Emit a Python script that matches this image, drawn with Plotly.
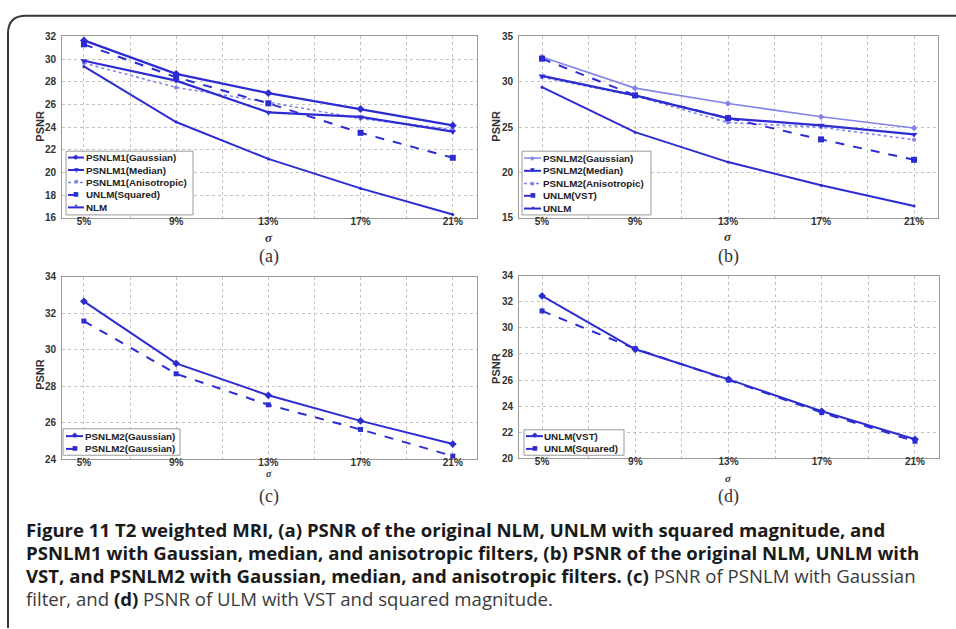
import plotly.graph_objects as go

W, H = 956, 629

# ---------------- data ----------------
sigma = [5, 9, 13, 17, 21]
sigma_labels = ["5%", "9%", "13%", "17%", "21%"]

a_psnlm1_gauss = [31.65, 28.7, 27.0, 25.6, 24.15]
a_psnlm1_median = [29.85, 28.1, 25.3, 24.9, 23.6]
a_psnlm1_aniso = [29.65, 27.5, 26.2, 24.75, 23.8]
a_unlm_squared = [31.3, 28.4, 26.1, 23.5, 21.3]
a_nlm = [29.35, 24.45, 21.2, 18.6, 16.3]

b_psnlm2_gauss = [32.73, 29.3, 27.6, 26.15, 24.9]
b_psnlm2_median = [30.65, 28.5, 25.96, 25.2, 24.2]
b_psnlm2_aniso = [30.5, 28.45, 25.5, 25.0, 23.6]
b_unlm_vst = [32.55, 28.5, 26.0, 23.65, 21.4]
b_unlm = [29.4, 24.45, 21.15, 18.6, 16.3]

c_psnlm2_gauss_1 = [32.65, 29.25, 27.5, 26.1, 24.83]
c_psnlm2_gauss_2 = [31.57, 28.68, 26.98, 25.63, 24.17]

d_unlm_vst = [32.45, 28.36, 26.05, 23.6, 21.45]
d_unlm_squared = [31.3, 28.4, 26.0, 23.5, 21.3]

a_yticks = [16, 18, 20, 22, 24, 26, 28, 30, 32]
b_yticks = [15, 20, 25, 30, 35]
c_yticks = [24, 26, 28, 30, 32, 34]
d_yticks = [20, 22, 24, 26, 28, 30, 32, 34]

# ---------------- styles ----------------
DARK = "#2c2cd2"
LIGHT = "#8484e8"


def fx(p):
    return p / W


def fy(p):
    return 1 - p / H


fig = go.Figure()

panels = {
    "a": ((62, 477, 31, 216), [4.05, 22.05], [16, 32], a_yticks, "", ""),
    "b": ((519, 938, 31, 216), [4.01, 22.03], [15, 35], b_yticks, "2", "2"),
    "c": ((62, 477, 276, 462), [4.05, 22.05], [24, 34], c_yticks, "3", "3"),
    "d": ((519, 939, 275, 461), [4.01, 22.03], [20, 34], d_yticks, "4", "4"),
}

tickfont = dict(family="Liberation Sans", size=10, color="#333", weight="bold")
layout_axes = {}
for key, (box, xr, yr, yt, xs, ys) in panels.items():
    l, r, t, b = box
    layout_axes["xaxis" + xs] = dict(
        domain=[fx(l), fx(r)], range=xr, anchor="y" + ys,
        tickvals=sigma, ticktext=sigma_labels, tickfont=tickfont,
        showline=True, mirror=True, linecolor="#9a9a9a", linewidth=1,
        showgrid=True, gridcolor="#c4c4c4", griddash="dot", gridwidth=1,
        zeroline=False, ticks="", ticklabelstandoff=-6,
        minor=dict(tick0=5, dtick=2, showgrid=True, gridcolor="#c4c4c4",
                   griddash="dot", ticks=""),
    )
    layout_axes["yaxis" + ys] = dict(
        domain=[fy(b), fy(t)], range=yr, anchor="x" + xs,
        tickvals=yt, tickfont=tickfont,
        showline=True, mirror=True, linecolor="#9a9a9a", linewidth=1,
        showgrid=True, gridcolor="#c4c4c4", griddash="dot", gridwidth=1,
        zeroline=False, ticks="", ticklabelstandoff=3,
    )


def add(y, xs, ys, color, width, dash, symbol, size, name):
    fig.add_trace(go.Scatter(
        x=sigma, y=y, xaxis="x" + xs, yaxis="y" + ys, name=name,
        mode="lines+markers", showlegend=False,
        line=dict(color=color, width=width, dash=dash),
        marker=dict(color=color, symbol=symbol, size=size),
        cliponaxis=False,
    ))


# (a)
add(a_psnlm1_aniso, "", "", LIGHT, 1.6, "dot", "circle", 4, "PSNLM1(Anisotropic)")
add(a_psnlm1_gauss, "", "", DARK, 2.2, "solid", "diamond", 6, "PSNLM1(Gaussian)")
add(a_psnlm1_median, "", "", DARK, 2.2, "solid", "triangle-down", 6, "PSNLM1(Median)")
add(a_unlm_squared, "", "", DARK, 2, "dash", "square", 6, "UNLM(Squared)")
add(a_nlm, "", "", DARK, 2, "solid", "circle", 3, "NLM")
# (b)
add(b_psnlm2_gauss, "2", "2", LIGHT, 1.6, "solid", "diamond", 5, "PSNLM2(Gaussian)")
add(b_psnlm2_aniso, "2", "2", LIGHT, 1.6, "dot", "circle", 4, "PSNLM2(Anisotropic)")
add(b_psnlm2_median, "2", "2", DARK, 2.2, "solid", "triangle-down", 6, "PSNLM2(Median)")
add(b_unlm_vst, "2", "2", DARK, 2, "dash", "square", 6, "UNLM(VST)")
add(b_unlm, "2", "2", DARK, 2, "solid", "circle", 3, "UNLM")
# (c)
add(c_psnlm2_gauss_1, "3", "3", DARK, 2, "solid", "diamond", 6, "PSNLM2(Gaussian)")
add(c_psnlm2_gauss_2, "3", "3", DARK, 2, "dash", "square", 5, "PSNLM2(Gaussian)")
# (d)
add(d_unlm_vst, "4", "4", DARK, 2, "solid", "diamond", 6, "UNLM(VST)")
add(d_unlm_squared, "4", "4", DARK, 2, "dash", "square", 5, "UNLM(Squared)")

shapes = []
annotations = []

# -------- compact legends (plotly's own legend rows are too tall here) --------
GLYPH = {"diamond": "◆", "triangle-down": "▼", "circle": "●", "square": "■", "dot": "•"}


def legend(box, sx, tx, entries):
    x0, y0, x1, y1 = box
    shapes.append(dict(type="rect", xref="paper", yref="paper",
                       x0=fx(x0), x1=fx(x1), y0=fy(y1), y1=fy(y0),
                       line=dict(color="#9a9a9a", width=1), fillcolor="white",
                       layer="above"))
    for (yy, color, width, dash, glyph, gsize, label) in entries:
        shapes.append(dict(type="line", xref="paper", yref="paper",
                           x0=fx(sx[0]), x1=fx(sx[1]), y0=fy(yy), y1=fy(yy),
                           line=dict(color=color, width=width, dash=dash),
                           layer="above"))
        annotations.append(dict(xref="paper", yref="paper",
                                x=fx((sx[0] + sx[1]) / 2), y=fy(yy - 1),
                                text=GLYPH[glyph], showarrow=False,
                                font=dict(family="DejaVu Sans", size=gsize, color=color),
                                xanchor="center", yanchor="middle",
                                borderpad=0))
        annotations.append(dict(xref="paper", yref="paper", x=fx(tx), y=fy(yy),
                                text=label, showarrow=False, xanchor="left",
                                yanchor="middle",
                                font=dict(family="Liberation Sans", size=9.8,
                                          color="#222", weight="bold")))


legend((66, 148, 193, 213), (68, 84), 84, [
    (154.5, DARK, 2, "solid", "diamond", 7, "PSNLM1(Gaussian)"),
    (167.2, DARK, 2, "solid", "triangle-down", 6, "PSNLM1(Median)"),
    (179.9, LIGHT, 1.5, "dot", "circle", 5, "PSNLM1(Anisotropic)"),
    (192.6, DARK, 2, "dash", "square", 6, "UNLM(Squared)"),
    (205.3, DARK, 2, "solid", "dot", 7, "NLM"),
])
legend((522, 148, 651, 213), (524, 541), 541, [
    (155, LIGHT, 1.5, "solid", "diamond", 6, "PSNLM2(Gaussian)"),
    (168, DARK, 2, "solid", "triangle-down", 6, "PSNLM2(Median)"),
    (181, LIGHT, 1.5, "dot", "circle", 5, "PSNLM2(Anisotropic)"),
    (193.5, DARK, 2, "dash", "square", 6, "UNLM(VST)"),
    (206.5, DARK, 2, "solid", "dot", 7, "UNLM"),
])
legend((63, 431, 180, 458), (66, 83), 83, [
    (438.5, DARK, 2, "solid", "diamond", 7, "PSNLM2(Gaussian)"),
    (451.5, DARK, 2, "dash", "square", 6, "PSNLM2(Gaussian)"),
])
legend((524, 432, 624, 458), (526, 543), 542, [
    (438.5, DARK, 2, "solid", "diamond", 7, "UNLM(VST)"),
    (451.5, DARK, 2, "dash", "square", 6, "UNLM(Squared)"),
])

# -------- axis titles and panel labels --------
for (x, y) in [(40, 123), (496, 123), (40, 376), (496, 370)]:
    annotations.append(dict(xref="paper", yref="paper", x=fx(x), y=fy(y),
                            text="PSNR", textangle=-90, showarrow=False,
                            xanchor="center", yanchor="middle",
                            font=dict(family="Liberation Sans", size=11,
                                      color="#333", weight="bold")))
for (x, y, s) in [(269, 236, 13), (728, 235, 13), (269, 477, 10), (728, 481, 11)]:
    annotations.append(dict(xref="paper", yref="paper", x=fx(x), y=fy(y),
                            text="<i>σ</i>", showarrow=False,
                            xanchor="center", yanchor="middle", borderpad=0,
                            font=dict(family="Liberation Serif", size=s,
                                      color="#333", weight="bold")))
for (x, y, t) in [(269, 255, "(a)"), (728, 255, "(b)"), (269, 500, "(c)"), (728, 500, "(d)")]:
    annotations.append(dict(xref="paper", yref="paper", x=fx(x), y=fy(y),
                            text=t, showarrow=False, xanchor="center",
                            yanchor="middle",
                            font=dict(family="Liberation Serif", size=18, color="#333")))

# -------- caption --------
cap_lines = [
    "<b>Figure 11 T2 weighted MRI, (a) PSNR of the original NLM, UNLM with squared magnitude, and</b>",
    "<b>PSNLM1 with Gaussian, median, and anisotropic filters, (b) PSNR of the original NLM, UNLM with</b>",
    "<b>VST, and PSNLM2 with Gaussian, median, and anisotropic filters. (c)</b>"
    "<span style='color:#3a3a3a'> PSNR of PSNLM with Gaussian</span>",
    "<span style='color:#3a3a3a'>filter, and </span><b>(d)</b>"
    "<span style='color:#3a3a3a'> PSNR of ULM with VST and squared magnitude.</span>",
]
for i, line in enumerate(cap_lines):
    annotations.append(dict(xref="paper", yref="paper", x=fx(24), y=fy(534 + i * 23.5),
                            text=line, showarrow=False, xanchor="left",
                            yanchor="middle",
                            font=dict(family="Open Sans", size=18.6, color="#1a1a1a")))

# -------- frame with rounded corner --------
r = 18
path = (f"M {fx(8)},{fy(H + 5)} L {fx(8)},{fy(10 + r)} "
        f"Q {fx(8)},{fy(10)} {fx(8 + r)},{fy(10)} L {fx(W + 5)},{fy(10)}")
shapes.append(dict(type="path", xref="paper", yref="paper", path=path,
                   line=dict(color="#3a3a3a", width=2)))

fig.update_layout(
    width=W, height=H,
    margin=dict(l=0, r=0, t=0, b=0),
    paper_bgcolor="white", plot_bgcolor="white",
    showlegend=False,
    shapes=shapes, annotations=annotations,
    **layout_axes,
)

fig.write_html("out.html",
               config={"displayModeBar": False},
               post_script="document.body.style.margin='0';"
                           "document.body.style.overflow='hidden';")
